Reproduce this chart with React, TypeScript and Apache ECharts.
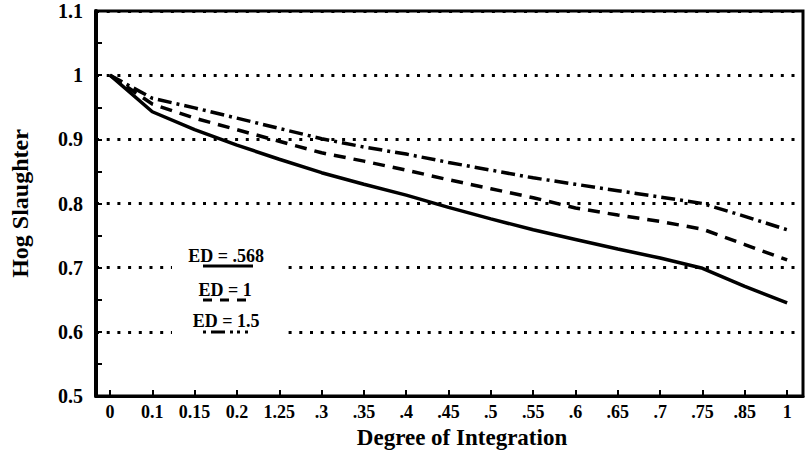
import React, { useEffect, useRef } from "react";
import * as echarts from "echarts";

const categories = ["0", "0.1", "0.15", "0.2", "1.25", ".3", ".35", ".4", ".45", ".5", ".55", ".6", ".65", ".7", ".75", ".85", "1"];
const ed0568 = [1.0, 0.943, 0.915, 0.891, 0.869, 0.848, 0.830, 0.813, 0.794, 0.776, 0.759, 0.744, 0.729, 0.715, 0.699, 0.671, 0.645];
const ed1 = [1.0, 0.955, 0.933, 0.915, 0.897, 0.879, 0.866, 0.852, 0.837, 0.823, 0.809, 0.793, 0.782, 0.772, 0.760, 0.736, 0.712];
const ed15 = [1.0, 0.964, 0.949, 0.933, 0.917, 0.901, 0.888, 0.877, 0.864, 0.852, 0.840, 0.830, 0.820, 0.810, 0.800, 0.780, 0.759];
const yTicks = [0.5, 0.6, 0.7, 0.8, 0.9, 1.0, 1.1];
const legendLabels = ["ED = .568", "ED = 1", "ED = 1.5"];

const FONT = "Liberation Serif";

export default function App() {
  const ref = useRef<HTMLDivElement>(null);
  useEffect(() => {
    if (!ref.current) return;
    const chart = echarts.init(ref.current, undefined, { renderer: "svg" });
    const idx = categories.map((_, i) => i);
    const toData = (arr: number[]) => arr.map((v, i) => [i, v]);
    const dashDot = [14, 5, 3, 5];
    chart.setOption({
      animation: false,
      backgroundColor: "#fff",
      grid: {
        left: 91,
        right: 4,
        top: 11,
        bottom: 67,
        show: true,
        borderColor: "#000",
        borderWidth: 3,
        backgroundColor: "transparent",
      },
      xAxis: {
        type: "value",
        min: -0.33,
        max: 16.375,
        name: "Degree of Integration",
        nameLocation: "middle",
        nameGap: 29,
        nameTextStyle: { fontFamily: FONT, fontWeight: "bold", fontSize: 23, color: "#000", padding: [0, 0, 0, 25] },
        axisLine: { onZero: false, lineStyle: { color: "#000", width: 3 } },
        axisTick: { inside: true, length: 6, lineStyle: { color: "#000", width: 2 }, customValues: idx },
        axisLabel: {
          customValues: idx,
          formatter: (v: number) => categories[Math.round(v)] ?? "",
          fontFamily: FONT,
          fontWeight: "bold",
          fontSize: 18,
          color: "#000",
          margin: 7,
        },
        splitLine: { show: false },
      },
      yAxis: {
        type: "value",
        min: 0.5,
        max: 1.1,
        interval: 0.1,
        name: "Hog Slaughter",
        nameLocation: "middle",
        nameGap: 64,
        nameTextStyle: { fontFamily: FONT, fontWeight: "bold", fontSize: 24, color: "#000" },
        axisLine: { onZero: false, lineStyle: { color: "#000", width: 4 } },
        axisTick: { inside: true, length: 6, lineStyle: { color: "#000", width: 2 } },
        minorTick: { show: true, splitNumber: 2, length: 6, lineStyle: { color: "#000", width: 2 } },
        axisLabel: {
          customValues: yTicks,
          formatter: (v: number) => {
            const r = Math.round(v * 10) / 10;
            return r === 1 ? "1" : r.toFixed(1);
          },
          fontFamily: FONT,
          fontWeight: "bold",
          fontSize: 20,
          color: "#000",
          margin: 13,
        },
        splitLine: { show: true, lineStyle: { color: "#000", width: 3, type: [3, 7.7] } },
      },
      graphic: [
        { type: "rect", z: 50, shape: { x: 172, y: 245, width: 112, height: 96 }, style: { fill: "#fff" } },
        { type: "text", z: 60, x: 226, y: 256, style: { text: legendLabels[0], font: `bold 18px "${FONT}"`, fill: "#000", align: "center", verticalAlign: "middle" } },
        { type: "line", z: 60, shape: { x1: 203, y1: 266, x2: 253, y2: 266 }, style: { stroke: "#000", lineWidth: 3 } },
        { type: "text", z: 60, x: 225, y: 290, style: { text: legendLabels[1], font: `bold 18px "${FONT}"`, fill: "#000", align: "center", verticalAlign: "middle" } },
        { type: "line", z: 60, shape: { x1: 203, y1: 300, x2: 253, y2: 300 }, style: { stroke: "#000", lineWidth: 3, lineDash: [9, 8] } },
        { type: "text", z: 60, x: 226, y: 321, style: { text: legendLabels[2], font: `bold 18px "${FONT}"`, fill: "#000", align: "center", verticalAlign: "middle" } },
        { type: "line", z: 60, shape: { x1: 203, y1: 332, x2: 252, y2: 332 }, style: { stroke: "#000", lineWidth: 3, lineDash: [3, 5, 14, 5, 3, 4, 3, 5] } },
      ],
      series: [
        {
          name: legendLabels[0],
          type: "line",
          data: toData(ed0568),
          showSymbol: false,
          symbol: "none",
          lineStyle: { color: "#000", width: 3.5, type: "solid" },
          z: 5,
        },
        {
          name: legendLabels[1],
          type: "line",
          data: toData(ed1),
          showSymbol: false,
          symbol: "none",
          lineStyle: { color: "#000", width: 3.5, type: [12, 8] },
          z: 5,
        },
        {
          name: legendLabels[2],
          type: "line",
          data: toData(ed15),
          showSymbol: false,
          symbol: "none",
          lineStyle: { color: "#000", width: 3.5, type: dashDot },
          z: 5,
        },
      ],
    });
    return () => chart.dispose();
  }, []);
  return <div ref={ref} style={{ position: "fixed", left: 0, top: 0, width: 807, height: 463 }} />;
}
